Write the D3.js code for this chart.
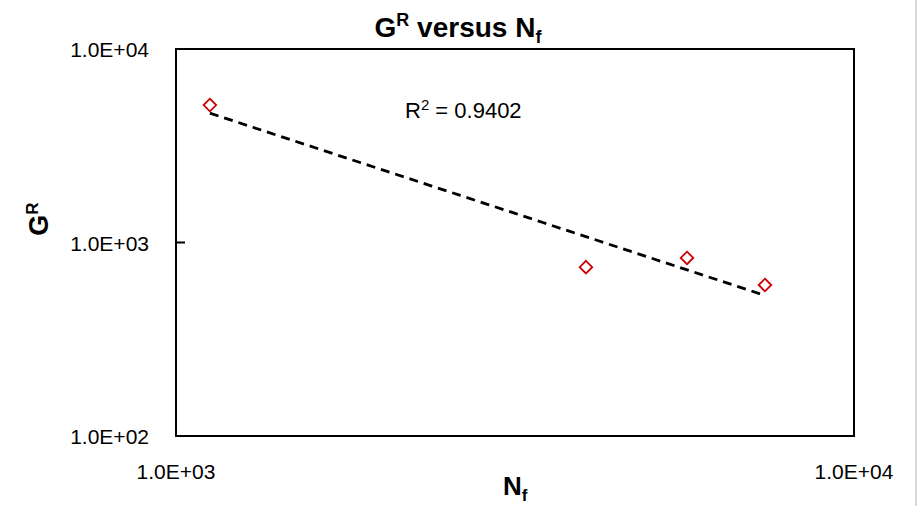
<!DOCTYPE html>
<html><head><meta charset="utf-8">
<script src="https://cdn.jsdelivr.net/npm/d3@7"></script>
<style>body{margin:0;background:#fff;}svg{display:block;}</style>
</head><body>
<script>
const nf = [1122, 4024, 5671, 7390];
const gr = [5134, 746, 832, 603];
const xTicks = [1000, 10000];
const yTicks = [100, 1000, 10000];
const xTickLabels = ["1.0E+03", "1.0E+04"];
const yTickLabels = ["1.0E+02", "1.0E+03", "1.0E+04"];
const r2Label = "0.9402";

const W = 917, H = 506;
const m = {l:176, r:854, t:49, b:436};
const font = "'Liberation Sans', Arial, sans-serif";
const svg = d3.select("body").append("svg").attr("width", W).attr("height", H);
svg.append("rect").attr("width", W).attr("height", H).attr("fill", "#fff");
svg.append("rect").attr("x", 915).attr("y", 0).attr("width", 2).attr("height", H).attr("fill", "#ddd8d2");

const x = d3.scaleLog().domain([1000, 10000]).range([m.l, m.r]);
const y = d3.scaleLog().domain([100, 10000]).range([m.b, m.t]);

// inner ticks
svg.append("g").selectAll("line").data(yTicks).join("line")
  .attr("x1", m.l).attr("x2", m.l + 9).attr("y1", d => y(d)).attr("y2", d => y(d))
  .attr("stroke", "#000").attr("stroke-width", 2);

// regression (power fit in log space)
const lx = nf.map(Math.log10), ly = gr.map(Math.log10);
const mx = d3.mean(lx), my = d3.mean(ly);
const sxy = d3.sum(lx, (v,i) => (v-mx)*(ly[i]-my));
const sxx = d3.sum(lx, v => (v-mx)**2);
const slope = sxy/sxx, icpt = my - slope*mx;
const xr = d3.extent(nf);
const fitPts = d3.range(0, 21).map(i => {
  const lv = Math.log10(xr[0]) + (Math.log10(xr[1]) - Math.log10(xr[0]))*i/20;
  return [Math.pow(10, lv), Math.pow(10, icpt + slope*lv)];
});
svg.append("path").datum(fitPts)
  .attr("d", d3.line().x(d => x(d[0])).y(d => y(d[1])))
  .attr("fill", "none").attr("stroke", "#000").attr("stroke-width", 2.8)
  .attr("stroke-dasharray", "9,6");

// markers
const s = 6.3;
svg.append("g").selectAll("path").data(nf).join("path")
  .attr("d", (d,i) => {
    const cx = x(d), cy = y(gr[i]);
    return `M${cx},${cy-s}L${cx+s},${cy}L${cx},${cy+s}L${cx-s},${cy}Z`;
  })
  .attr("fill", "none").attr("stroke", "#cc0000").attr("stroke-width", 1.8);

// border
svg.append("rect").attr("x", m.l).attr("y", m.t).attr("width", m.r - m.l).attr("height", m.b - m.t)
  .attr("fill", "none").attr("stroke", "#000").attr("stroke-width", 2);

// tick labels
svg.append("g").selectAll("text").data(yTicks).join("text")
  .attr("x", 149).attr("y", d => y(d) + 8).attr("text-anchor", "end")
  .attr("font-family", font).attr("font-size", 21).attr("fill", "#000")
  .text((d,i) => yTickLabels[i]);
svg.append("g").selectAll("text").data(xTicks).join("text")
  .attr("x", d => x(d)).attr("y", 479).attr("text-anchor", "middle")
  .attr("font-family", font).attr("font-size", 21).attr("fill", "#000")
  .text((d,i) => xTickLabels[i]);

// title
const t = svg.append("text").attr("x", 458).attr("y", 37).attr("text-anchor", "middle")
  .attr("font-family", font).attr("font-size", 28).attr("font-weight", "bold");
t.append("tspan").text("G");
t.append("tspan").attr("font-size", 18).attr("dy", -11).text("R");
t.append("tspan").attr("dy", 11).text(" versus N");
t.append("tspan").attr("font-size", 18).attr("dy", 6).text("f");

// x title
const xt = svg.append("text").attr("x", 503).attr("y", 495)
  .attr("font-family", font).attr("font-size", 26).attr("font-weight", "bold");
xt.append("tspan").text("N");
xt.append("tspan").attr("font-size", 17).attr("dy", 6).text("f");

// y title
const yt = svg.append("text").attr("transform", "translate(48,219) rotate(-90)").attr("text-anchor", "middle")
  .attr("font-family", font).attr("font-size", 27).attr("font-weight", "bold");
yt.append("tspan").text("G");
yt.append("tspan").attr("font-size", 17).attr("dy", -10).text("R");

// R^2
const rt = svg.append("text").attr("x", 405).attr("y", 118)
  .attr("font-family", font).attr("font-size", 22).attr("fill", "#000");
rt.append("tspan").text("R");
rt.append("tspan").attr("font-size", 15).attr("dy", -8).text("2");
rt.append("tspan").attr("dy", 8).text(" = " + r2Label);
</script>
</body></html>
